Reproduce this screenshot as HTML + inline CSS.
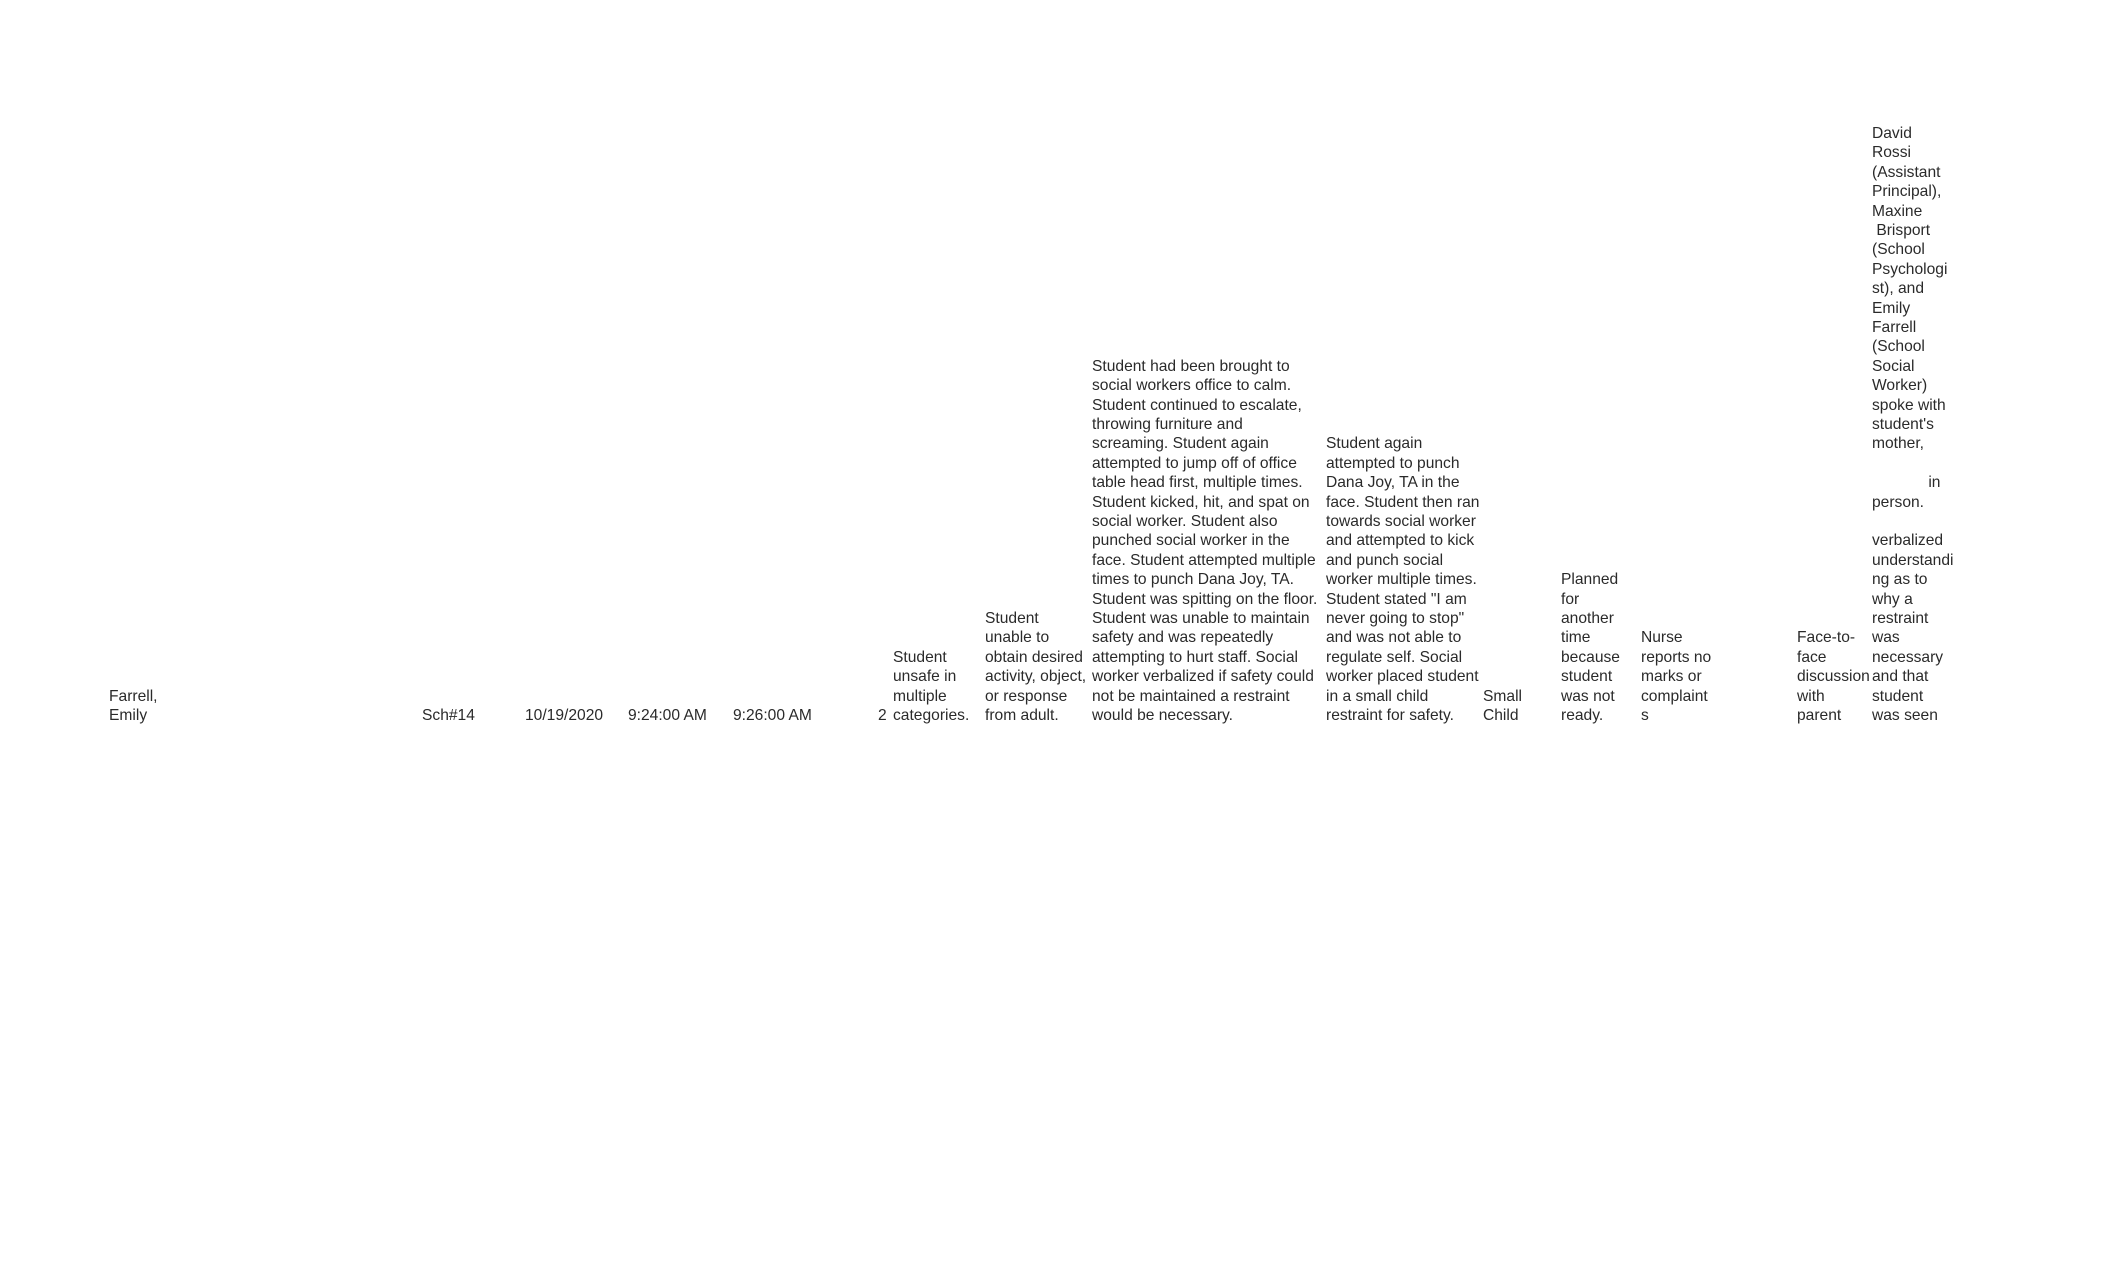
<!DOCTYPE html>
<html><head><meta charset="utf-8"><style>
html,body{margin:0;padding:0;background:#fff;}
body{width:2112px;height:1284px;position:relative;overflow:hidden;font-family:"Liberation Sans",Arial,sans-serif;font-size:15.6px;line-height:19.4px;color:#2a2a2a;}
.c{position:absolute;bottom:558.5px;white-space:pre;}
</style></head><body>
<div class="c" style="left:109px">Farrell,
Emily</div>
<div class="c" style="left:422px">Sch#14</div>
<div class="c" style="left:525px">10/19/2020</div>
<div class="c" style="left:628px">9:24:00 AM</div>
<div class="c" style="left:733px">9:26:00 AM</div>
<div class="c" style="left:878px">2</div>
<div class="c" style="left:893px">Student
unsafe in
multiple
categories.</div>
<div class="c" style="left:985px">Student
unable to
obtain desired
activity, object,
or response
from adult.</div>
<div class="c" style="left:1092px">Student had been brought to
social workers office to calm.
Student continued to escalate,
throwing furniture and
screaming. Student again
attempted to jump off of office
table head first, multiple times.
Student kicked, hit, and spat on
social worker. Student also
punched social worker in the
face. Student attempted multiple
times to punch Dana Joy, TA.
Student was spitting on the floor.
Student was unable to maintain
safety and was repeatedly
attempting to hurt staff. Social
worker verbalized if safety could
not be maintained a restraint
would be necessary.</div>
<div class="c" style="left:1326px">Student again
attempted to punch
Dana Joy, TA in the
face. Student then ran
towards social worker
and attempted to kick
and punch social
worker multiple times.
Student stated "I am
never going to stop"
and was not able to
regulate self. Social
worker placed student
in a small child
restraint for safety.</div>
<div class="c" style="left:1483px">Small
Child</div>
<div class="c" style="left:1561px">Planned
for
another
time
because
student
was not
ready.</div>
<div class="c" style="left:1641px">Nurse
reports no
marks or
complaint
s</div>
<div class="c" style="left:1797px">Face-to-
face
discussion
with
parent</div>
<div class="c" style="left:1872px">David
Rossi
(Assistant
Principal),
Maxine
 Brisport
(School
Psychologi
st), and
Emily
Farrell
(School
Social
Worker)
spoke with
student's
mother,

             in
person.

verbalized
understandi
ng as to
why a
restraint
was
necessary
and that
student
was seen</div>
</body></html>
